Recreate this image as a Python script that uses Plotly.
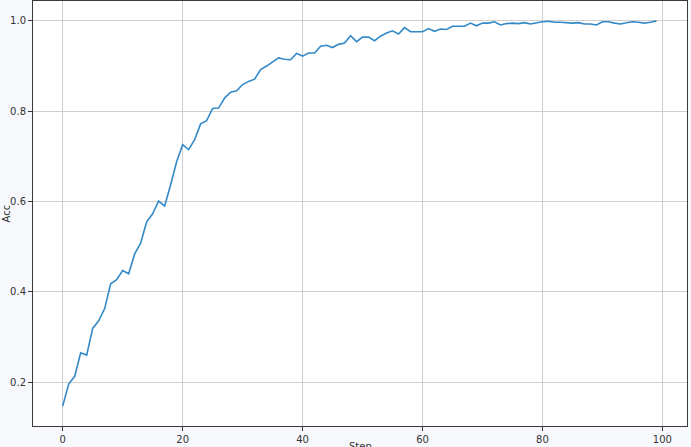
import plotly.graph_objects as go

steps = list(range(100))
acc = [
    0.147, 0.196, 0.213, 0.265, 0.260, 0.319, 0.336, 0.363, 0.418, 0.427,
    0.447, 0.440, 0.484, 0.508, 0.555, 0.573, 0.601, 0.590, 0.637, 0.688,
    0.726, 0.715, 0.737, 0.772, 0.779, 0.806, 0.807, 0.829, 0.842, 0.845,
    0.859, 0.866, 0.871, 0.892, 0.900, 0.909, 0.918, 0.915, 0.914, 0.928,
    0.922, 0.929, 0.929, 0.944, 0.946, 0.941, 0.948, 0.951, 0.967, 0.954,
    0.964, 0.964, 0.956, 0.966, 0.973, 0.978, 0.971, 0.985, 0.976, 0.976,
    0.976, 0.983, 0.977, 0.982, 0.981, 0.988, 0.988, 0.988, 0.995, 0.989,
    0.995, 0.995, 0.998, 0.991, 0.994, 0.995, 0.994, 0.996, 0.993, 0.996,
    0.998, 0.999, 0.997, 0.997, 0.996, 0.995, 0.996, 0.993, 0.993, 0.991,
    0.998, 0.998, 0.995, 0.993, 0.996, 0.998, 0.997, 0.995, 0.997, 1.000,
]
x_ticks = [0, 20, 40, 60, 80, 100]
y_ticks = [0.2, 0.4, 0.6, 0.8, 1.0]

fig = go.Figure()
fig.add_trace(go.Scatter(x=steps, y=acc, mode="lines",
                         line=dict(color="#3389c7", width=1.6),
                         showlegend=False, hoverinfo="skip"))

axis_common = dict(
    showgrid=True, gridcolor="#cfcfcf", gridwidth=1,
    showline=True, linecolor="#3a3a3a", linewidth=1, mirror=True,
    ticks="outside", ticklen=4, tickcolor="#3a3a3a", tickwidth=1,
    zeroline=False, automargin=False,
    tickfont=dict(family="DejaVu Sans", size=10, color="#333333"),
)

fig.update_xaxes(range=[-4.95, 104.1], tickvals=x_ticks,
                 ticktext=[str(t) for t in x_ticks], **axis_common)
fig.update_yaxes(range=[0.103, 1.044], tickvals=y_ticks,
                 ticktext=[f"{t:.1f}" for t in y_ticks], **axis_common)

fig.add_annotation(text="Step", xref="paper", yref="paper", x=0.5, y=0,
                   yanchor="top", yshift=-13, showarrow=False,
                   font=dict(family="DejaVu Sans", size=10, color="#333333"))
fig.add_annotation(text="Acc", xref="paper", yref="paper", x=0, y=0.5,
                   xanchor="center", xshift=-27, textangle=-90, showarrow=False,
                   font=dict(family="DejaVu Sans", size=10, color="#333333"))

fig.update_layout(
    width=691, height=447,
    margin=dict(l=33, r=4, t=1, b=21),
    paper_bgcolor="#f7f8fc", plot_bgcolor="#ffffff",
)

fig.write_html("out.html", config={"displayModeBar": False},
               post_script="document.body.style.margin='0';document.body.style.padding='0';")
